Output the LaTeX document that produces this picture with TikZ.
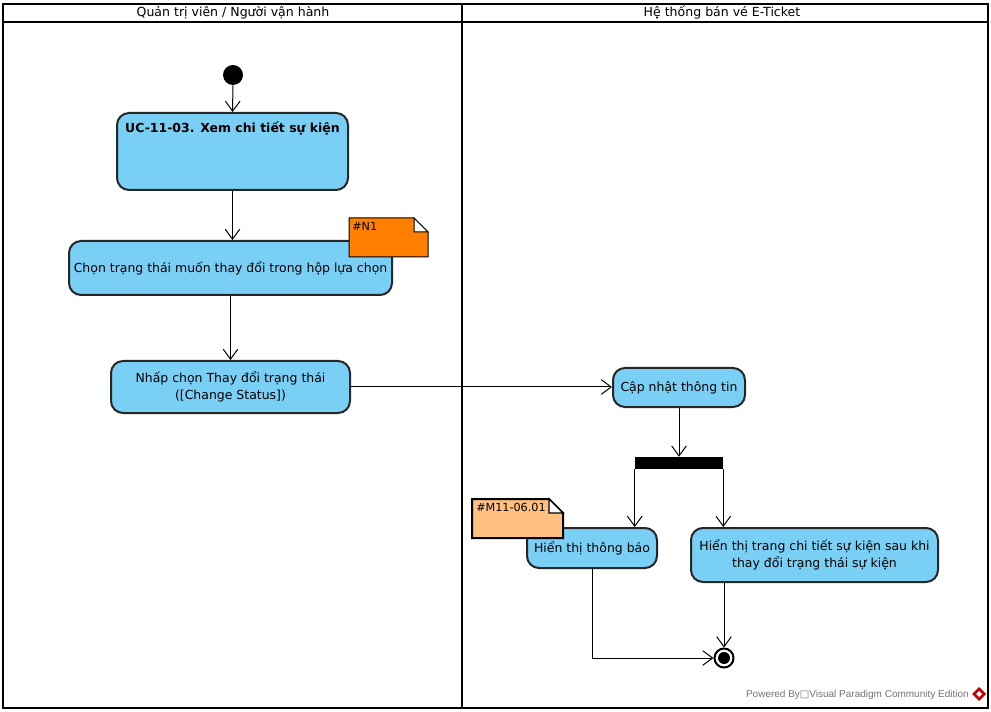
\documentclass[tikz,border=0pt]{standalone}
\usepackage{fontspec}
\setmainfont{DejaVu Sans}
\newfontfamily\wmfont{Liberation Sans}
\newfontfamily\symfont{DejaVu Sans}
\usetikzlibrary{arrows.meta}
\definecolor{actfill}{RGB}{122,207,245}
\definecolor{noteorange}{RGB}{255,128,0}
\definecolor{notepeach}{RGB}{255,192,128}
\begin{document}
\begin{tikzpicture}[x=0.75pt,y=-0.75pt,
  font=\fontsize{9.35}{12.5}\selectfont,
  actbox/.style={draw=black!85, line width=1.5pt, fill=actfill, rounded corners=9pt, align=center, inner sep=0pt},
  notetext/.style={anchor=north west, inner sep=0pt, font=\fontsize{8.4}{10}\selectfont},
  lanetext/.style={font=\fontsize{9.4}{11}\selectfont},
  flow/.style={-{Straight Barb[length=7.5pt,width=11pt,line width=0.75pt]}, line width=0.75pt}]
\useasboundingbox (0,0) rectangle (991,712);
% frame
\draw[line width=1.5pt] (3,4) rectangle (988,708);
\draw[line width=1pt] (3,22) -- (988,22);
\draw[line width=2.2pt] (462,4) -- (462,708);
\node[lanetext] (lane1) at (233,13) {Quản trị viên / Người vận hành};
\node[lanetext] (lane2) at (722,13) {Hệ thống bán vé E-Ticket};
% nodes
\node[circle, fill=black, minimum size=15pt, inner sep=0pt] (start) at (233,75) {};
\node[actbox, minimum width=231*0.75pt, minimum height=77*0.75pt,
  label={[font=\fontsize{9.35}{12.5}\selectfont\bfseries, anchor=north, yshift=-4pt]north:UC-11-03. Xem chi tiết sự kiện}] (uc) at (232.5,151.5) {};
\node[actbox, minimum width=323*0.75pt, minimum height=54*0.75pt] (chon) at (230.5,268) {Chọn trạng thái muốn thay đổi trong hộp lựa chọn};
\node[actbox, minimum width=239*0.75pt, minimum height=52*0.75pt] (nhap) at (230.5,387) {Nhấp chọn Thay đổi trạng thái\\([Change Status])};
\node[actbox, minimum width=132*0.75pt, minimum height=39*0.75pt] (capnhat) at (679,387.5) {Cập nhật thông tin};
\node[fill=black, minimum width=88*0.75pt, minimum height=12*0.75pt, inner sep=0pt] (fork) at (679,463) {};
\node[actbox, minimum width=130*0.75pt, minimum height=40*0.75pt] (thongbao) at (592,548) {Hiển thị thông báo};
\node[actbox, minimum width=247*0.75pt, minimum height=54*0.75pt] (trang) at (814.5,555) {Hiển thị trang chi tiết sự kiện sau khi\\thay đổi trạng thái sự kiện};
\node[circle, draw=black, line width=1.5pt, fill=white, minimum size=19*0.75pt, inner sep=0pt] (final) at (724,658) {};
\fill[black] (final.center) circle (6);
% connectors
\draw[flow] (start.south) -- (uc.north);
\draw[flow] (uc.south) -- (uc.south |- chon.north);
\draw[flow] (chon.south) -- (nhap.north);
\draw[flow] (nhap.east) -- (nhap.east -| capnhat.west);
\draw[flow] (capnhat.south) -- (fork.north);
\draw[flow] (fork.south west) -- (fork.south west |- thongbao.north);
\draw[flow] (fork.south east) -- (fork.south east |- trang.north);
\draw[flow] (thongbao.south) |- (final.west);
\draw[flow] (final.north |- trang.south) -- (final.north);
% notes
\draw[line width=0.75pt, fill=noteorange] (349,218) -- (414,218) -- (428,232) -- (428,257) -- (349,257) -- cycle;
\draw[line width=0.75pt, fill=white] (414,218) -- (428,232) -- (414,232) -- cycle;
\node[notetext] (n1) at (352,222) {\#N1};
\draw[line width=1.5pt, fill=notepeach] (472,499) -- (549,499) -- (563,513) -- (563,538) -- (472,538) -- cycle;
\draw[line width=1pt, fill=white] (549,499) -- (563,513) -- (549,513) -- cycle;
\node[notetext] (m11) at (476,503) {\#M11-06.01};
% watermark
\node[anchor=east, inner sep=0pt, text=black!55, font=\wmfont\fontsize{7.5}{8}\selectfont] (wm) at (969,695) {Powered By{\symfont □}Visual Paradigm Community Edition};
\fill[red!75!black] (979,687) -- (986,694) -- (979,701) -- (972,694) -- cycle;
\fill[white] (979,691) -- (982,694) -- (979,697) -- (976,694) -- cycle;
\end{tikzpicture}
\end{document}
